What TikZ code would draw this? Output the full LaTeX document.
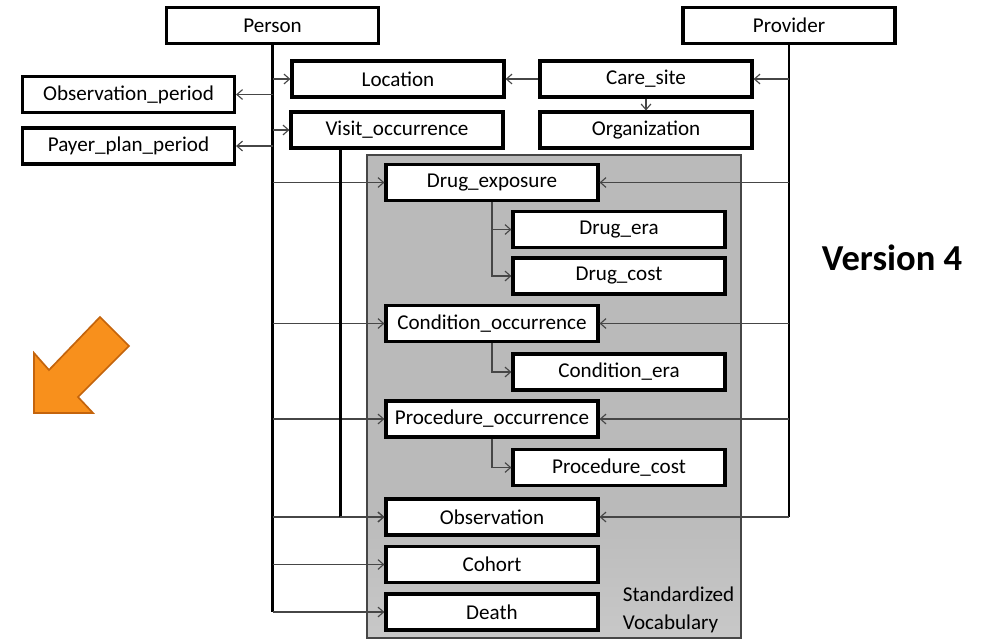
\documentclass[tikz,border=0pt]{standalone}
\usepackage{fontspec}
\setmainfont{Carlito}
\usetikzlibrary{arrows.meta,calc}
\definecolor{vocabgray}{RGB}{186,186,186}
\definecolor{vocablight}{RGB}{236,236,236}
\definecolor{linkgray}{RGB}{70,70,70}
\definecolor{arroworange}{RGB}{248,144,28}
\definecolor{arrowedge}{RGB}{196,100,12}

\begin{document}
\begin{tikzpicture}[x=0.025cm, y=-0.025cm,
    table/.style={draw, line width=2.2pt, fill=white, minimum width=5.3cm, minimum height=0.9cm,
                  inner sep=0pt, font=\fontsize{15}{17}\selectfont},
    link/.style={-{Straight Barb[length=4pt,width=7pt]}, draw=linkgray, line width=0.8pt},
    trunk/.style={draw=black, line width=1.6pt}]
    \useasboundingbox (0,0) rectangle (992,640);
    % Standardized vocabulary area
    \fill[vocabgray] (367,155) rectangle (741,638);
    \shade[top color=vocabgray, middle color=vocablight, bottom color=vocabgray!80] (367,505) rectangle (741,638);
    \draw[linkgray, line width=0.8pt] (367,155) rectangle (741,638);
    % Tables
    \node[table] (Person)      at (272.5, 25.5) {Person};
    \node[table] (Provider)    at (789, 25.5)   {Provider};
    \node[table] (Location)    at (398, 79)     {Location};
    \node[table] (CareSite)    at (646, 79)     {Care\_site};
    \node[table] (Organization) at (646, 130)   {Organization};
    \node[table] (Visit)       at (397, 130)    {Visit\_occurrence};
    \node[table] (ObsPeriod)   at (128.5, 94.5) {Observation\_period};
    \node[table] (Payer)       at (128.5, 146)  {Payer\_plan\_period};
    \node[table] (DrugExp)     at (492, 182.5)  {Drug\_exposure};
    \node[table] (DrugEra)     at (619, 229.5)  {Drug\_era};
    \node[table] (DrugCost)    at (619, 276)    {Drug\_cost};
    \node[table] (CondOcc)     at (492, 323.5)  {Condition\_occurrence};
    \node[table] (CondEra)     at (619, 372)    {Condition\_era};
    \node[table] (ProcOcc)     at (492, 419)    {Procedure\_occurrence};
    \node[table] (ProcCost)    at (619, 467.5)  {Procedure\_cost};
    \node[table] (Observation) at (492, 517)    {Observation};
    \node[table] (Cohort)      at (492, 564.5)  {Cohort};
    \node[table] (Death)       at (492, 612)    {Death};
    \node[anchor=west, align=left, font=\fontsize{15}{20}\selectfont] (vocab) at (618, 610)
        {Standardized\\Vocabulary};
    \node[font=\fontsize{26}{30}\selectfont\bfseries] (version) at (892, 258) {Version 4};
    % Person links
    \draw[trunk] (Person.south) -- (Person.south |- Death.west);
    \foreach \t in {Location, Visit, DrugExp, CondOcc, ProcOcc, Observation, Cohort, Death}
        \draw[link] (Person.south |- \t.west) -- (\t.west);
    \foreach \t in {ObsPeriod, Payer}
        \draw[link] (Person.south |- \t.east) -- (\t.east);
    % Provider links
    \draw[draw=black, line width=1pt] (Provider.south) -- (Provider.south |- Observation.east);
    \foreach \t in {CareSite, DrugExp, CondOcc, ProcOcc, Observation}
        \draw[link] (Provider.south |- \t.east) -- (\t.east);
    % Visit links
    \coordinate (vbus) at ($(Visit.south west)+(51,0)$);
    \draw[trunk] (vbus) -- (vbus |- Observation.west);
    \draw[link] (vbus |- Observation.west) -- (Observation.west);
    % Care site links
    \draw[link] (CareSite.west) -- (Location.east);
    \draw[link] (CareSite.south) -- (Organization.north);
    % Derived tables
    \foreach \a/\b in {DrugExp/DrugEra, DrugExp/DrugCost, CondOcc/CondEra, ProcOcc/ProcCost}
        \draw[link] (\a.south) |- (\b.west);
    % Orange arrow
    \filldraw[fill=arroworange, draw=arrowedge, line width=1.2pt]
        (34,413) -- (34,353) -- (49,370) -- (100,317) -- (129,346) -- (78,397) -- (93,413) -- cycle;
\end{tikzpicture}
\end{document}
